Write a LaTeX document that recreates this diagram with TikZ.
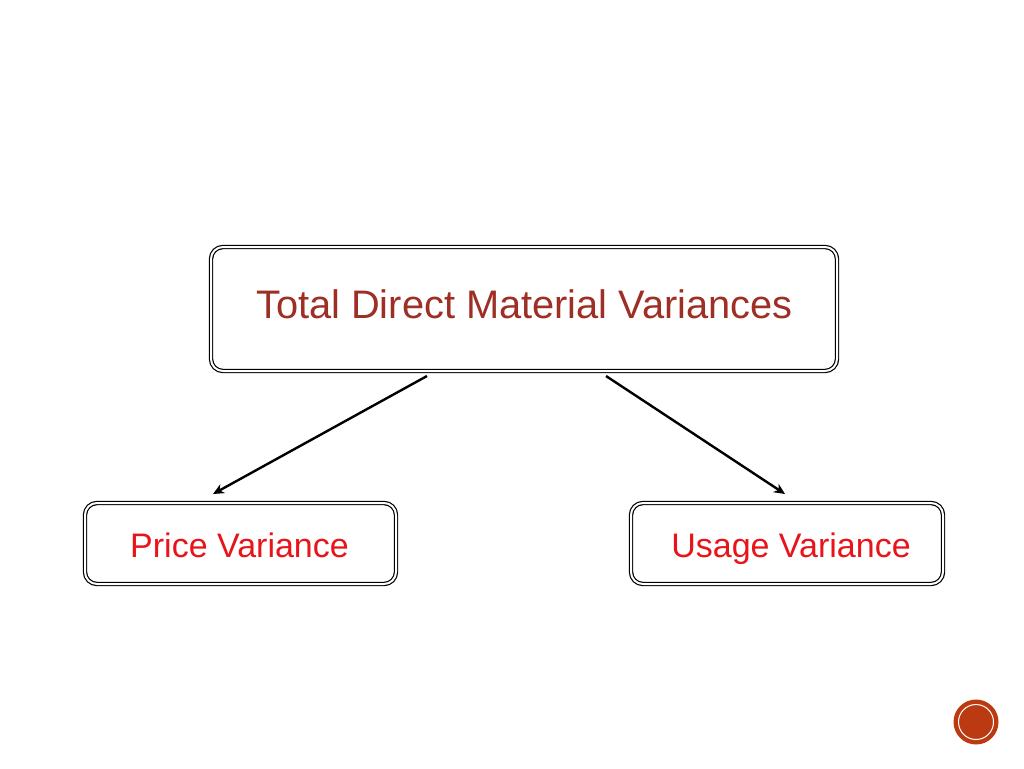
\documentclass[tikz,border=0pt]{standalone}
\usepackage{fontspec}
\setmainfont{Liberation Sans}
\usetikzlibrary{arrows.meta}
\definecolor{darkred}{HTML}{9E2F25}
\definecolor{brightred}{HTML}{E8141A}
\definecolor{badge}{HTML}{BC3A12}
\begin{document}
\begin{tikzpicture}[x=1pt,y=-1pt,
  box/.style={draw=black,double=white,double distance=2pt,line width=1.2pt,rounded corners=12pt,inner sep=0pt},
  arr/.style={line width=2.4pt,-{Stealth[length=11pt,width=10pt]}}]
\useasboundingbox[fill=white] (0,0) rectangle (1024,768);
\node[box,minimum width=626pt,minimum height=124pt] (top) at (524,309) {};
\node[text=darkred,font=\fontsize{39.8}{44}\selectfont,anchor=base] (toptext) at (524.5,318) {Total Direct Material Variances};
\node[box,minimum width=311pt,minimum height=81pt] (price) at (240.5,543.5) {};
\node[text=brightred,font=\fontsize{34}{38}\selectfont,anchor=base] (pricetext) at (239.5,557) {Price Variance};
\node[box,minimum width=312pt,minimum height=81pt] (usage) at (787,543.5) {};
\node[text=brightred,font=\fontsize{34}{38}\selectfont,anchor=base] (usagetext) at (791,557) {Usage Variance};
\coordinate (l1) at (427,376);
\coordinate (l2) at (213,494);
\coordinate (r1) at (606,376);
\coordinate (r2) at (785,494);
\draw[arr] (l1) -- (l2);
\draw[arr] (r1) -- (r2);
\node[circle,fill=badge,minimum size=45pt,inner sep=0pt] (badge) at (976,722) {};
\draw[white,line width=1pt] (badge.center) circle (17.5pt);
\end{tikzpicture}
\end{document}
